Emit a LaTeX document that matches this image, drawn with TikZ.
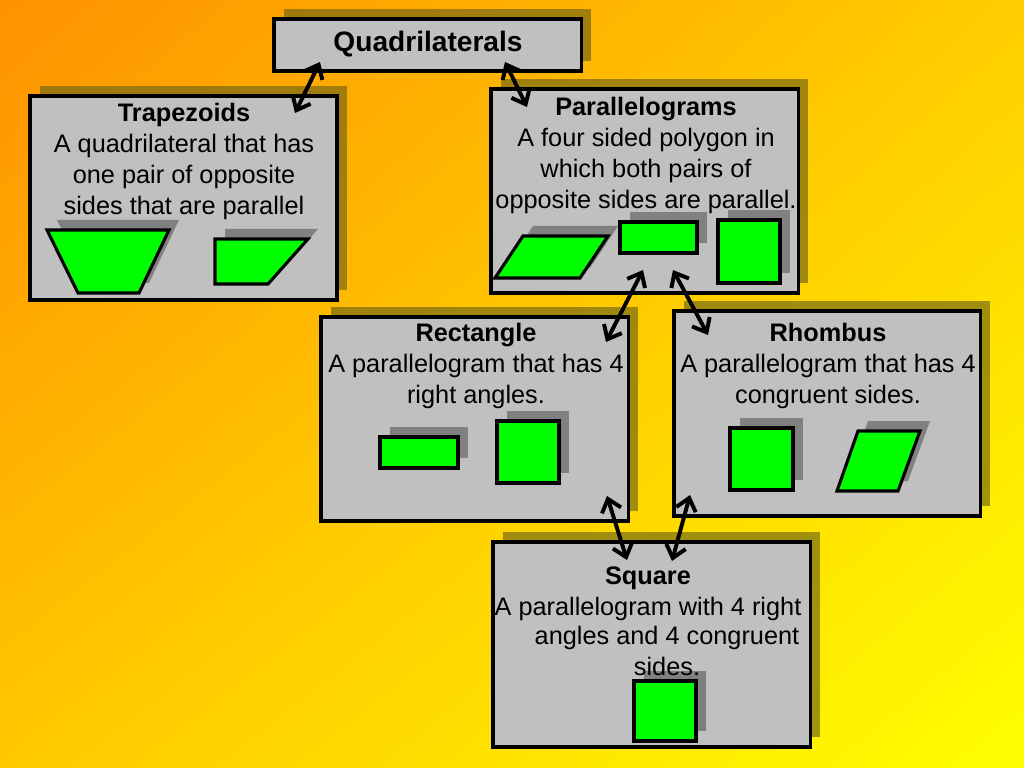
\documentclass[tikz,border=0pt]{standalone}
\usepackage{fontspec}
\setmainfont{Liberation Sans}
\usetikzlibrary{arrows.meta,shadows,shadings}
\definecolor{boxgray}{RGB}{192,192,192}
\definecolor{shapegreen}{RGB}{0,255,0}
\definecolor{boxshade}{RGB}{110,100,20}
\definecolor{shapeshade}{RGB}{128,128,128}
\definecolor{bgtl}{RGB}{255,145,0}
\definecolor{bgtr}{RGB}{255,205,0}
\definecolor{bgbl}{RGB}{255,200,0}
\definecolor{bgbr}{RGB}{255,255,0}
\begin{document}
\begin{tikzpicture}[x=0.025cm, y=-0.025cm,
   box/.style={draw, line width=2.2pt, fill=boxgray, minimum width=7.675cm, minimum height=5.1cm,
     drop shadow={shadow xshift=0.25cm, shadow yshift=0.25cm, fill=boxshade, opacity=0.65}},
   shp/.style={draw, line width=2.2pt, fill=shapegreen,
     drop shadow={shadow xshift=0.25cm, shadow yshift=0.25cm, fill=shapeshade, opacity=1}},
   txt/.style={anchor=base, align=center, inner sep=0pt, font=\fontsize{18}{22}\selectfont},
   link/.style={{Straight Barb[length=0.3cm,width=0.5cm]}-{Straight Barb[length=0.3cm,width=0.5cm]}, line width=2.8pt}]
\shade[upper left=bgtl, upper right=bgtr, lower left=bgbl, lower right=bgbr]
   (0,0) rectangle (1024,768);
\useasboundingbox (0,0) rectangle (1024,768);
\node[box, minimum height=1.3cm] (quad) at (427.5,45) {};
\node[box] (trap) at (183.5,198) {};
\node[box] (para) at (644.5,191) {};
\node[box] (rect) at (474.5,419) {};
\node[box, minimum width=7.65cm, minimum height=5.125cm] (rhom) at (827,413.5) {};
\node[box, minimum width=7.925cm, minimum height=5.125cm] (sqr) at (651.5,644.5) {};
\filldraw[shp] (47,230) -- (169,230) -- (139,293) -- (78,293) -- cycle;
\filldraw[shp] (215,239) -- (308,239) -- (268,284) -- (215,284) -- cycle;
\filldraw[shp] (523,236) -- (608,236) -- (580,278) -- (495,278) -- cycle;
\filldraw[shp] (620,222) rectangle (697,253);
\filldraw[shp] (718,220) rectangle (780,283);
\filldraw[shp] (380,437) rectangle (458,468);
\filldraw[shp] (497,421) rectangle (559,483);
\filldraw[shp] (730,428) rectangle (793,490);
\filldraw[shp] (858,431) -- (920,431) -- (898,491) -- (837,491) -- cycle;
\filldraw[shp] (634,681) rectangle (696,741);
\node[txt, font=\bfseries\fontsize{20}{24}\selectfont] (quadt) at (428,52) {Quadrilaterals};
\node[txt] (trapt) at (184,214) {\textbf{Trapezoids}\\A quadrilateral that has\\one pair of opposite\\sides that are parallel};
\node[txt] (parat) at (646,208) {\textbf{Parallelograms}\\A four sided polygon in\\which both pairs of\\opposite sides are parallel.};
\node[txt] (rectt) at (476,403) {\textbf{Rectangle}\\A parallelogram that has 4\\right angles.};
\node[txt] (rhomt) at (828,403) {\textbf{Rhombus}\\A parallelogram that has 4\\congruent sides.};
\node[txt] (sqrt) at (648,615) {\textbf{Square}\\A parallelogram with 4 right};
\node[txt] (sqrt2) at (667,675) {angles and 4 congruent\\sides.};
\coordinate (qa) at (320,62);
\coordinate (ta) at (295,113);
\coordinate (qb) at (505,62);
\coordinate (pa) at (527,107);
\coordinate (pb) at (643,270);
\coordinate (ra) at (606,342);
\coordinate (pc) at (673,270);
\coordinate (ha) at (708,335);
\coordinate (rb) at (607,496);
\coordinate (sa) at (627,560);
\coordinate (hb) at (690,495);
\coordinate (sb) at (672,561);
\foreach \a/\b in {qa/ta, qb/pa, pb/ra, pc/ha, rb/sa, hb/sb}
   \draw[link] (\a) -- (\b);
\end{tikzpicture}
\end{document}
